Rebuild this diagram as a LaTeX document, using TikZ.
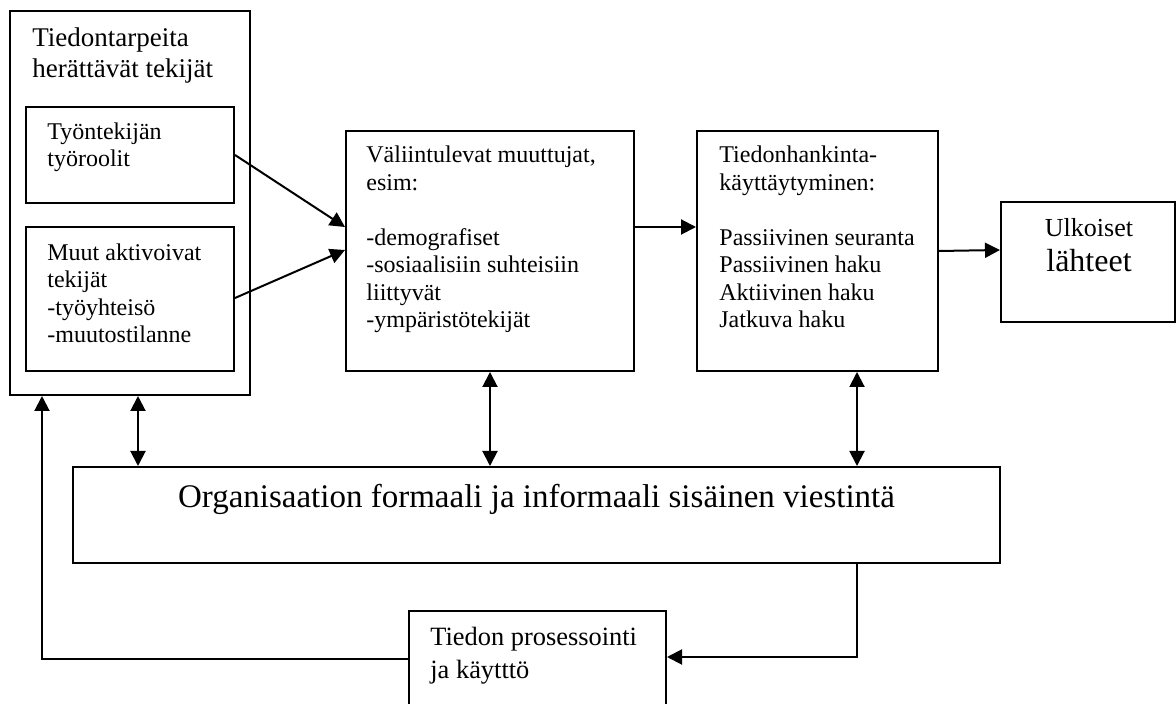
\documentclass[tikz,border=0pt]{standalone}
\usepackage{fontspec}
\setmainfont{Liberation Serif}
\usetikzlibrary{arrows.meta,fit}
\begin{document}
\begin{tikzpicture}[x=0.5pt,y=-0.5pt,
  box/.style={draw, line width=1pt, inner sep=0pt},
  txt/.style={anchor=base west, inner sep=0pt, align=left, font=\fontsize{12}{13.75}\selectfont},
  tip/.tip={Triangle[length=7.5pt,width=7.5pt]},
  arr/.style={line width=1pt, -tip},
  darr/.style={line width=1pt, tip-tip}]
\clip (0,0) rectangle (1176,704);
% boxes
\node[box, fit={(10,11)(250,395)}] (outer) {};
\node[box, fit={(26,107)(234,203)}] (in1) {};
\node[box, fit={(26,227)(234,371)}] (in2) {};
\node[box, fit={(346,131)(634,371)}] (mid) {};
\node[box, fit={(697,131)(938,371)}] (right) {};
\node[box, fit={(1001,202)(1175,322)}] (ulk) {};
\node[box, fit={(73,467)(1000,563)}] (org) {};
\node[box, fit={(409,611)(666,730)}] (bot) {};
% texts (anchored at the baseline of their last line)
\node[txt, font=\fontsize{13.5}{15.5}\selectfont] (t-outer) at (32,78) {Tiedontarpeita\\herättävät tekijät};
\node[txt] (t-in1) at (47,167) {Työntekijän\\työroolit};
\node[txt] (t-in2) at (47,343) {Muut aktivoivat\\tekijät\\-työyhteisö\\-muutostilanne};
\node[txt] (t-mid) at (366,328) {Väliintulevat muuttujat,\\esim:\\[13.75pt]-demografiset\\-sosiaalisiin suhteisiin\\liittyvät\\-ympäristötekijät};
\node[txt] (t-right) at (719,328) {Tiedonhankinta-\\käyttäytyminen:\\[13.75pt]Passiivinen seuranta\\Passiivinen haku\\Aktiivinen haku\\Jatkuva haku};
\node[anchor=base, inner sep=0pt, font=\fontsize{13}{15}\selectfont] (t-ulk1) at (1089,237) {Ulkoiset};
\node[anchor=base, inner sep=0pt, font=\fontsize{16}{18}\selectfont] (t-ulk2) at (1089,272) {lähteet};
\node[anchor=base, inner sep=0pt, font=\fontsize{16.5}{19}\selectfont] (t-org) at (536.5,508) {Organisaation formaali ja informaali sisäinen viestintä};
\node[txt, font=\fontsize{13.2}{16.5}\selectfont] (t-bot) at (430,678) {Tiedon prosessointi\\ja käytttö};
% connectors
\draw[arr] (in1.east) -- (mid.west |- 0,227);
\draw[arr] (in2.east |- 0,298) -- (mid.west |- 0,250);
\draw[arr] (mid.east |- 0,227) -- (right.west |- 0,227);
\draw[arr] (right.east |- 0,251) -- (ulk.west |- 0,250);
\draw[darr] (outer.south -| 138,0) -- (org.north -| 138,0);
\draw[darr] (mid.south -| 490,0) -- (org.north -| 490,0);
\draw[darr] (right.south -| 857,0) -- (org.north -| 857,0);
\draw[arr] (org.south -| 857,0) |- (bot.east |- 0,657);
\draw[arr] (bot.west |- 0,659) -| (outer.south -| 42,0);
\end{tikzpicture}
\end{document}
